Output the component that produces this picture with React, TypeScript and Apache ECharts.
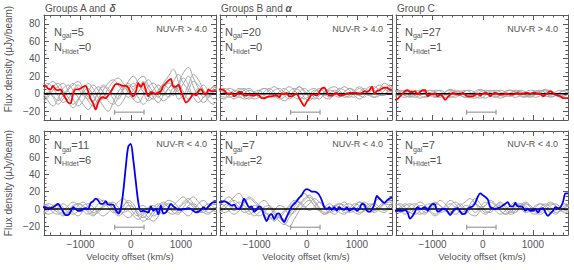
import React, { useEffect, useRef } from "react";
import * as echarts from "echarts";

// ---------- sampling grids (km/s) ----------
const STACK_V0 = -1750;
const STACK_DV = 50;
const INDIV_V0 = -1750;
const INDIV_DV = 100;

// ---------- axes ----------
const X_MIN = -1730;
const X_MAX = 1700;
const Y_MIN = -30;
const Y_MAX = 90;
const X_TICK_LABELS = [-1000, 0, 1000];
const X_MINOR_TICKS = [-1600, -1400, -1200, -800, -600, -400, -200, 200, 400, 600, 800, 1200, 1400, 1600];
const Y_TICK_LABELS = [-20, 0, 20, 40, 60, 80];
const Y_MINOR_TICKS = [-25, -15, -10, -5, 5, 10, 15, 25, 30, 35, 45, 50, 55, 65, 70, 75, 85];

// ---------- annotations ----------
const GROUP_TITLES = [
  ["Groups A and ", "δ"],
  ["Groups B and ", "α"],
  ["Group C", ""],
];
const COLOUR_CUTS = ["NUV-R > 4.0", "NUV-R < 4.0"];
const N_GAL = [
  [5, 20, 27],
  [11, 7, 7],
];
const N_HIDET = [
  [0, 0, 1],
  [6, 2, 1],
];
const ERRBAR_X = [-320, 265];
const ERRBAR_Y = -21;

// ---------- stacked spectra (50 km/s grid from -1750) ----------
const STACK_RED_A = [
  9, 9, 6, 5, 9, 5, 4, 5, 0, -5,
  -10, -11, 0, 5, 5, 6, 8, 9, 3, -6,
  -11, -18, -10, -5, -4, -5, -2, 2, 7, 11,
  11, 10, 9, 9, 7, 1, -3, 2, 12, 8,
  12, 4, -3, 2, 1, 0, 1, 3, 9, 12,
  15, 17, 8, 8, 10, 3, -4, -10, -8, -4,
  0, -2, 3, 5, 1, -1, 5, 3, 3, 3,
];
const STACK_RED_B = [
  5, 5, 4, 1, 0, 1, -3, -1, 2, 2,
  -2, -2, -1, -2, -2, -1, -2, -5, -5, -4,
  -3, -3, -2, -2, -4, 0, 0, 1, -3, -3,
  -1, 0, -5, -10, -14, -9, -5, -1, -1, -2,
  2, 6, 7, 2, -2, -2, 0, 1, -2, -2,
  -1, 0, 1, 1, 1, 1, 0, 1, 3, 2,
  4, 8, 0, 3, 4, 6, 7, 7, 5, 4,
];
const STACK_RED_C = [
  -7, -6, -3, 0, 3, 4, 2, 2, 3, -1,
  2, 4, 4, -3, -1, 0, 0, -3, -1, -3,
  -7, -4, -1, 1, 0, -1, -1, 1, -1, -3,
  -3, -3, -1, 0, -2, 0, 1, 0, -3, 0,
  1, 0, -1, -1, 0, 0, -1, -1, 0, 1,
  0, 0, 1, 1, 0, 1, 1, 0, 0, -3,
  -1, 1, 3, 1, -1, -2, -3, -5, -5, -5,
];
const STACK_BLUE_A = [
  2, 2, 1, 1, 2, 4, 6, 2, -3, -7,
  -7, -3, 2, 0, -2, -2, 0, 1, 0, 7,
  9, 12, 10, 6, 6, 9, 5, 5, 5, -1,
  -5, 0, 20, 48, 72, 75, 57, 32, 8, -3,
  -2, -3, -4, 3, -2, 0, -6, 4, -5, -4,
  1, 6, 3, 1, -1, -1, 0, 0, 1, 0,
  -2, -4, -3, -1, 2, 0, 3, 6, 8, 8,
];
const STACK_BLUE_B = [
  8, 8, 9, 8, 6, 4, 5, 1, 0, 4,
  12, 7, 2, 3, -3, -1, 3, 1, -8, -14,
  -8, -6, -12, -6, -5, -11, -15, -9, -3, 3,
  6, 9, 13, 16, 21, 23, 22, 20, 20, 19,
  16, 10, 2, 0, 2, -1, 2, -2, 2, 0,
  -1, 2, -2, 0, 1, -2, 0, 6, 5, -2,
  -3, -1, 6, 15, 12, 9, 7, 10, 12, 13,
];
const STACK_BLUE_C = [
  -2, -2, -2, -2, -1, -4, -11, -8, -3, 2,
  0, 1, 2, -2, 3, 6, 5, -3, -2, 0,
  0, -3, -7, -3, 0, 1, -3, -6, -5, 0,
  2, 3, 7, 14, 18, 16, 14, 11, 2, 1,
  0, 1, 2, 4, 6, 8, 3, 3, 7, 3,
  3, 2, -2, 0, -2, -2, 0, -4, 0, 1,
  -4, -8, -5, -2, 2, 1, 2, 8, 18, 18,
];

// ---------- individual spectra (100 km/s grid from -1750) ----------
const INDIV_RED_A = [
  [8, 12, 6, -2, -10, -6, 4, 10, 2, -8, -14, -6, 4, 12, 16, 10, 2, -4, 4, 10, 6, -2, -6, 2, 12, 20, 28, 14, 2, -6, -2, 6, 4, -2, 2, 6],
  [-6, -2, 8, 12, 4, -4, -12, -6, 2, 6, -2, -10, -4, 6, 14, 18, 12, 4, -6, -10, -2, 8, 12, 6, -2, 6, 14, 22, 12, 4, -4, -10, -4, 2, 8, 4],
  [2, -8, -14, -6, 6, 10, 4, -4, -12, -18, -10, 2, 10, 6, 0, -6, 4, 14, 20, 12, 2, -8, -4, 4, 10, 6, -2, 8, 18, 10, -2, 4, 10, 2, -6, -2],
  [12, 6, -4, -12, -6, 4, 10, 14, 6, -4, -8, 2, 8, 4, -6, -14, -8, 4, 12, 8, 14, 6, -4, -10, -2, 6, 10, 4, 12, 20, 8, -4, -10, -4, 6, 10],
  [-10, -4, 4, 8, 12, 4, -6, -14, -8, 2, 10, 4, -6, -2, 8, 12, 6, 10, 4, -4, -12, -6, 4, 10, 4, -4, 2, 12, 24, 30, 18, 6, -4, 2, 8, 2],
  [4, 10, 14, 8, -2, -10, -16, -8, 4, 12, 6, -4, -14, -20, -10, 2, 8, 2, -6, 2, 10, 16, 8, -2, -8, -4, 6, 2, -6, 4, 14, 10, 2, -8, -12, -4],
  [-4, 2, -2, -8, -2, 6, 12, 6, -2, -6, 2, 8, 2, -8, -12, -4, 6, 12, 8, 16, 20, 10, 2, -4, 4, 12, 8, -6, -2, 10, 22, 16, 4, -4, 2, 10],
];
const INDIV_RED_B = [
  [4, 2, -2, -6, -2, 4, 6, 2, -4, -2, 4, 8, 4, -2, -6, -2, 2, 6, 2, -4, -6, 0, 4, 2, -2, 2, 6, 4, -2, -4, 2, 6, 10, 6, 2, 4],
  [-4, -6, -2, 2, 6, 4, -2, -6, -4, 2, 6, 2, -4, -8, -4, 2, 8, 4, -2, 2, 6, 2, -4, -2, 4, 8, 4, -2, -6, -2, 4, 8, 4, 0, 6, 10],
  [2, 6, 4, -2, -4, 0, 4, 2, -2, -6, -2, 4, 6, 2, -2, 4, 8, 2, -4, -6, -2, 2, 6, 8, 4, -2, -4, 2, 6, 2, -2, 2, 6, 12, 8, 2],
  [-2, 2, 6, 4, -2, -6, -4, 2, 4, -2, -4, -2, 2, 6, 2, -4, -6, -2, 4, 6, 2, -2, 0, 4, 2, -4, -2, 4, 8, 4, -2, -4, 2, 6, 4, -2],
  [6, 2, -4, -2, 4, 6, 2, -2, 2, 6, 4, -2, -6, -4, 2, 6, 4, -4, -8, -2, 4, 6, 2, -2, -4, 2, 6, 2, -2, 2, 8, 4, -2, -2, 4, 6],
  [0, -4, -2, 4, 2, -4, -6, -2, 4, 6, 2, -4, -2, 4, 8, 4, -2, -6, -2, 4, 2, -4, -6, 0, 6, 4, -2, -4, 2, 6, 2, -4, -2, 4, 10, 4],
];
const INDIV_RED_C = [
  [2, 4, 2, -2, -4, -2, 2, 4, 2, -2, -4, -2, 2, 3, 0, -4, -5, -2, 2, 4, 2, -2, -3, 0, 3, 2, -2, -4, -1, 2, 4, 2, -2, -4, -2, 1],
  [-3, -1, 2, 4, 2, -2, -4, -2, 2, 4, 1, -3, -4, -1, 3, 4, 1, -3, -5, -2, 2, 4, 2, -2, -4, -2, 2, 4, 3, -1, -3, -2, 2, 4, 2, -2],
  [4, 2, -2, -3, 0, 3, 4, 1, -3, -4, -1, 2, 4, 2, -2, -4, -2, 2, 4, 2, -2, -5, -3, 1, 4, 3, -1, -3, 0, 3, 5, 2, -2, -3, 1, 3],
  [0, -3, -4, -1, 3, 4, 2, -2, -4, -2, 2, 5, 3, -1, -4, -3, 1, 4, 3, -1, -3, -1, 3, 4, 1, -3, -4, -1, 3, 4, 1, -3, -2, 2, 4, 2],
  [-2, 2, 4, 2, -2, -5, -3, 1, 4, 3, -1, -4, -2, 2, 4, 2, -3, -5, -2, 2, 4, 2, -2, -3, 1, 4, 2, -2, -4, -2, 2, 3, 0, -3, -2, 2],
  [3, 1, -2, -4, -2, 2, 3, 0, -3, -2, 2, 4, 2, -2, -4, -1, 3, 5, 2, -2, -4, -2, 2, 4, 2, -2, -3, 0, 3, 2, -2, -4, -2, 2, 4, 1],
];
const INDIV_BLUE_A = [
  [4, 2, -4, -6, -2, 4, 8, 4, -2, -6, -2, 6, 10, 6, -2, -8, -4, 4, 2, -8, -14, -10, -2, 4, 8, 4, -2, 2, 8, 12, 6, -2, -4, 2, 6, 2],
  [-2, -6, -4, 2, 6, 2, -4, -8, -2, 4, 8, 12, 8, 2, -4, -2, 4, 8, 2, -6, -10, -4, 2, 6, 2, -4, -6, 0, 6, 10, 14, 8, 2, -4, -2, 2],
  [6, 4, 0, -4, -8, -4, 2, 6, 4, -2, -6, -4, 2, 6, 8, 2, -4, -2, -8, -12, -6, 2, 4, -2, -6, -2, 4, 10, 14, 8, 2, -4, -2, 4, 8, 4],
  [-4, 0, 4, 6, 2, -4, -6, -2, 4, 6, 2, -4, -8, -4, 2, 8, 12, 6, -4, -8, -4, -10, -14, -8, 2, 6, 2, -4, -2, 4, 6, 2, -4, -6, 0, 4],
  [2, 6, 4, -2, -6, -2, 4, 6, 2, -4, -8, -2, 4, 8, 4, -2, -6, -10, -6, 2, 4, -2, -8, -4, 4, 10, 8, 2, -4, -8, -2, 6, 10, 4, -2, -4],
  [-6, -2, 2, 4, -2, -6, -2, 4, 8, 2, -4, -2, 4, 6, 0, -6, 2, 10, 6, -4, -8, -12, -6, 2, 6, 2, -4, -6, 2, 8, 4, -2, 2, 6, 2, -2],
];
const INDIV_BLUE_B = [
  [6, 10, 14, 8, 2, -4, -2, 4, 2, -6, -12, -8, -14, -18, -10, -2, 6, 12, 16, 10, 2, -4, -2, 4, 6, 2, -4, -2, 4, 8, 4, -2, 2, 6, 4, -2],
  [-2, 4, 8, 14, 18, 10, 2, -4, -8, -4, 2, -6, -10, -4, 2, 8, 14, 18, 12, 4, -2, -6, -2, 4, 2, -4, -2, 4, 8, 2, -4, -2, 4, 8, 10, 6],
  [2, -4, -2, 4, 8, 4, -2, -8, -4, 2, 4, -2, -8, -12, -6, 2, 8, 4, -2, 2, 8, 4, -2, -6, -2, 4, 6, 2, -4, -2, 4, 6, 2, -2, 4, 8],
  [8, 4, -2, -6, -2, 6, 12, 8, 2, -4, -8, -14, -8, -2, 4, 10, 8, 2, 6, 12, 8, 2, -4, -2, 4, 8, 2, -4, -6, 0, 6, 4, -2, -4, 2, 6],
  [-4, 0, 6, 10, 6, 0, -6, -2, 6, 10, 4, -4, -10, -16, -20, -12, -2, 6, 10, 4, -2, 2, 6, 2, -4, -6, 0, 6, 4, -2, 2, 8, 12, 6, 0, 2],
  [4, 8, 4, -2, 2, 8, 14, 10, 4, -2, -6, -2, 4, 2, -6, -4, 4, 10, 14, 8, 0, -6, -4, 2, 6, 4, -2, 2, 8, 6, 0, -4, 0, 6, 8, 4],
];
const INDIV_BLUE_C = [
  [2, -2, -6, -2, 4, 8, 4, -2, -6, -2, 4, 10, 6, -2, -6, 0, 6, 2, -4, -2, 4, 8, 4, -2, -4, 2, 6, 2, -4, -6, -2, 4, 6, 2, -2, 2],
  [-4, 0, 4, 6, 2, -4, -6, 0, 6, 4, -2, -6, -2, 4, 8, 12, 6, -2, -6, -2, 4, 6, 2, -4, -2, 4, 8, 4, -2, -4, 2, 6, 4, -2, -4, 0],
  [6, 4, -2, -4, 0, 4, 2, -4, -8, -4, 2, 6, 2, -4, -2, 4, 6, 2, 4, 10, 6, -2, -6, -2, 4, 6, 2, -4, -6, -2, 4, 8, 4, -2, 2, 6],
  [-2, 2, 6, 2, -4, -6, -2, 4, 8, 4, -2, -4, 2, 6, 0, -6, -8, -2, 4, 8, 4, -2, -6, -4, 2, 6, 4, -2, 2, 6, 4, -2, -6, -2, 4, 4],
  [0, -4, -2, 4, 6, 2, -4, -2, 4, 10, 6, -2, -6, -2, 4, 2, -4, 2, 8, 4, -2, -6, -2, 4, 8, 2, -4, -2, 4, 6, 2, -4, -2, 4, 6, 2],
  [4, 6, 2, -4, -6, -2, 4, 6, 2, -4, -2, 4, 8, 4, -2, 6, 12, 6, -2, -4, 2, 4, -2, -6, -4, 2, 6, 4, -2, 2, 6, 2, -4, -2, 2, 4],
];

const STACKS = [
  [STACK_RED_A, STACK_RED_B, STACK_RED_C],
  [STACK_BLUE_A, STACK_BLUE_B, STACK_BLUE_C],
];
const INDIVIDUALS = [
  [INDIV_RED_A, INDIV_RED_B, INDIV_RED_C],
  [INDIV_BLUE_A, INDIV_BLUE_B, INDIV_BLUE_C],
];

// ---------- styling / layout ----------
const STACK_COLOURS = ["#ff0000", "#0000ff"];
const GRAY = "#a6a6a6";
const FRAME = "#5a5a5a";
const TEXT = "#555555";
const FONT = "'Liberation Sans', Arial, sans-serif";
const COL_LEFT = [44, 220, 396];
const COL_W = 172;
const ROW_TOP = [15, 131];
const ROW_H = [105, 104];
const NGAL_X = [54, 225, 405];
const CUT_RIGHT = [207, 383, 558];
const NGAL_Y = [31.5, 145];
const NHI_Y = [47, 159.5];
const CUT_Y = [28.5, 143.5];
const YTITLE_Y = [59, 183];

const fmt = (v: number) => (v < 0 ? "\u2212" + Math.abs(v) : String(v));

function axisX(gridIndex: number, position: string, major: boolean, labels: boolean) {
  return {
    type: "value",
    gridIndex,
    position,
    min: X_MIN,
    max: X_MAX,
    axisLine: { show: major, onZero: false, lineStyle: { color: FRAME, width: 1 } },
    axisTick: {
      show: true,
      inside: true,
      length: major ? 5 : 2.5,
      customValues: major ? X_TICK_LABELS : X_MINOR_TICKS,
      lineStyle: { color: FRAME, width: 1 },
    },
    axisLabel: {
      show: labels,
      customValues: X_TICK_LABELS,
      formatter: fmt,
      fontSize: 10,
      fontFamily: FONT,
      color: TEXT,
      margin: 4,
    },
    splitLine: { show: false },
  };
}

function axisY(gridIndex: number, position: string, major: boolean, labels: boolean) {
  return {
    type: "value",
    gridIndex,
    position,
    min: Y_MIN,
    max: Y_MAX,
    axisLine: { show: major, onZero: false, lineStyle: { color: FRAME, width: 1 } },
    axisTick: {
      show: true,
      inside: true,
      length: major ? 5 : 2.5,
      customValues: major ? Y_TICK_LABELS : Y_MINOR_TICKS,
      lineStyle: { color: FRAME, width: 1 },
    },
    axisLabel: {
      show: labels,
      customValues: Y_TICK_LABELS,
      formatter: fmt,
      fontSize: 10,
      fontFamily: FONT,
      color: TEXT,
      margin: 4,
    },
    splitLine: { show: false },
  };
}

function textEl(x: number, y: number, text: string, extra: any = {}, rotation = 0) {
  return {
    type: "text",
    x,
    y,
    rotation,
    silent: true,
    style: {
      text,
      fill: TEXT,
      fontSize: 10,
      fontFamily: FONT,
      align: "left",
      verticalAlign: "middle",
      textAlign: "left",
      textVerticalAlign: "middle",
      ...extra,
    },
  };
}

function buildOption() {
  const grid: any[] = [];
  const xAxis: any[] = [];
  const yAxis: any[] = [];
  const series: any[] = [];
  const graphic: any[] = [];

  for (let r = 0; r < 2; r++) {
    for (let c = 0; c < 3; c++) {
      const gi = grid.length;
      grid.push({ left: COL_LEFT[c], top: ROW_TOP[r], width: COL_W, height: ROW_H[r] });
      const xi = xAxis.length;
      const yi = yAxis.length;
      for (const pos of ["bottom", "top"]) {
        xAxis.push(axisX(gi, pos, true, pos === "bottom" && r === 1));
        xAxis.push(axisX(gi, pos, false, false));
      }
      for (const pos of ["left", "right"]) {
        yAxis.push(axisY(gi, pos, true, pos === "left" && c === 0));
        yAxis.push(axisY(gi, pos, false, false));
      }

      INDIVIDUALS[r][c].forEach((arr) => {
        series.push({
          type: "line",
          xAxisIndex: xi,
          yAxisIndex: yi,
          data: arr.map((v, i) => [INDIV_V0 + i * INDIV_DV, v]),
          showSymbol: false,
          smooth: 0.4,
          lineStyle: { color: GRAY, width: 1 },
          silent: true,
          z: 2,
        });
      });

      series.push({
        type: "line",
        xAxisIndex: xi,
        yAxisIndex: yi,
        data: [
          [X_MIN, 0],
          [X_MAX, 0],
        ],
        showSymbol: false,
        lineStyle: { color: "#000", width: 1.5 },
        silent: true,
        z: 3,
      });

      series.push({
        type: "line",
        xAxisIndex: xi,
        yAxisIndex: yi,
        data: ERRBAR_X.map((x) => [x, ERRBAR_Y]),
        symbol: "rect",
        symbolSize: [1, 5],
        showSymbol: true,
        itemStyle: { color: "#888" },
        lineStyle: { color: "#888", width: 1 },
        silent: true,
        z: 3,
      });

      series.push({
        type: "line",
        xAxisIndex: xi,
        yAxisIndex: yi,
        data: STACKS[r][c].map((v, i) => [STACK_V0 + i * STACK_DV, v]),
        showSymbol: false,
        smooth: 0.3,
        lineStyle: { color: STACK_COLOURS[r], width: 1.8 },
        silent: true,
        z: 4,
      });

      // N_gal / N_HIdet
      const rich = {
        n: { fontSize: 11, fontFamily: FONT, fill: TEXT },
        s: { fontSize: 7, fontFamily: FONT, fill: TEXT, padding: [8, 0, 0, 0] },
      };
      graphic.push(textEl(NGAL_X[c], NGAL_Y[r], `{n|N}{s|gal}{n|=${N_GAL[r][c]}}`, { rich }));
      graphic.push(textEl(NGAL_X[c], NHI_Y[r], `{n|N}{s|HIdet}{n|=${N_HIDET[r][c]}}`, { rich }));
      // colour cut
      graphic.push(
        textEl(CUT_RIGHT[c], CUT_Y[r], COLOUR_CUTS[r], {
          fontSize: 9,
          align: "right",
          textAlign: "right",
        })
      );
      if (r === 1) {
        graphic.push(
          textEl(COL_LEFT[c] + COL_W / 2, 256, "Velocity offset (km/s)", {
            fontSize: 9.5,
            align: "center",
            textAlign: "center",
          })
        );
      }
    }
  }

  GROUP_TITLES.forEach((t, c) => {
    graphic.push(
      textEl(COL_LEFT[c] + 1, 8, `{t|${t[0]}}{g|${t[1]}}`, {
        rich: {
          t: { fontSize: 10, fontFamily: FONT, fill: TEXT },
          g: { fontSize: 10, fontFamily: FONT, fill: TEXT, fontWeight: "bold", fontStyle: "italic" },
        },
      })
    );
  });

  YTITLE_Y.forEach((y) => {
    graphic.push(
      textEl(8, y, "Flux density (\u03bcJy/beam)", { align: "center", textAlign: "center" }, Math.PI / 2)
    );
  });

  return {
    animation: false,
    backgroundColor: "#ffffff",
    grid,
    xAxis,
    yAxis,
    series,
    graphic: { elements: graphic },
  };
}

export default function App() {
  const ref = useRef<HTMLDivElement>(null);
  useEffect(() => {
    if (!ref.current) return;
    const chart = echarts.init(ref.current, undefined, { renderer: "svg" });
    chart.setOption(buildOption() as any);
    return () => chart.dispose();
  }, []);
  return (
    <div
      ref={ref}
      style={{ position: "absolute", left: 0, top: 0, width: 574, height: 270 }}
    />
  );
}
